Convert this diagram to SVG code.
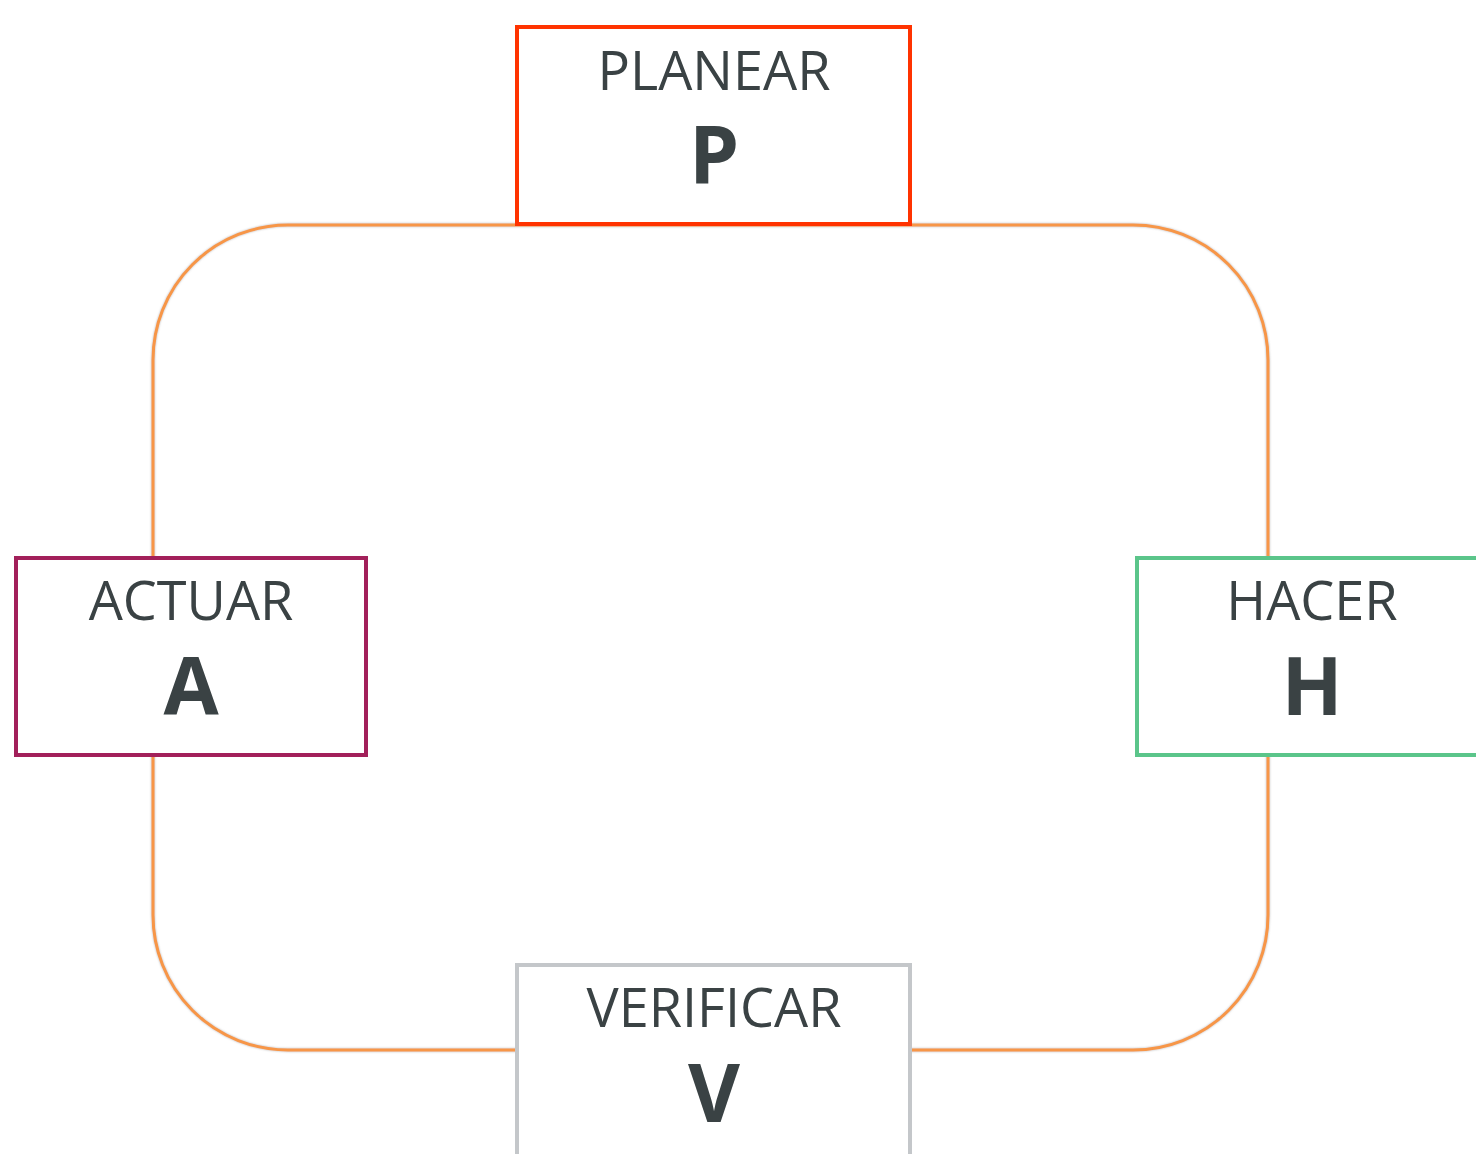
<svg xmlns="http://www.w3.org/2000/svg" width="1476" height="1154" viewBox="0 0 1476 1154">
<style>
.lbl{font-family:"Open Sans","Noto Sans",sans-serif;font-size:54px;fill:#3A4244;text-anchor:middle}
.big{font-family:"Open Sans","Noto Sans",sans-serif;font-size:80px;font-weight:bold;fill:#3A4244;text-anchor:middle}
.box{fill:#FFFFFF;stroke-width:4}
</style>
<defs>
<filter id="sh" x="-5%" y="-5%" width="110%" height="110%">
<feDropShadow dx="0" dy="0" stdDeviation="1.2" flood-color="#808080" flood-opacity="0.6"/>
</filter>
</defs>
<rect width="1476" height="1154" fill="#FFFFFF"/>
<g id="connectors">
<rect x="153" y="225" width="1115" height="825" rx="135" ry="135" fill="none" stroke="#F79646" stroke-width="3" filter="url(#sh)"/>
</g>
<g id="planear">
<rect class="box" x="517" y="27" width="393" height="197" stroke="#FF3300"/>
<text class="lbl" x="714" y="90">PLANEAR</text>
<text class="big" x="714" y="184">P</text>
</g>
<g id="actuar">
<rect class="box" x="16" y="558" width="350" height="197" stroke="#A2205A"/>
<text class="lbl" x="191" y="620">ACTUAR</text>
<text class="big" x="191" y="715">A</text>
</g>
<g id="hacer">
<rect class="box" x="1137" y="558" width="360" height="197" stroke="#5BC58A"/>
<text class="lbl" x="1312" y="620">HACER</text>
<text class="big" x="1312" y="715">H</text>
</g>
<g id="verificar">
<rect class="box" x="517" y="965" width="393" height="220" stroke="#C4C7CA"/>
<text class="lbl" x="714" y="1027">VERIFICAR</text>
<text class="big" x="714" y="1122">V</text>
</g>
</svg>
